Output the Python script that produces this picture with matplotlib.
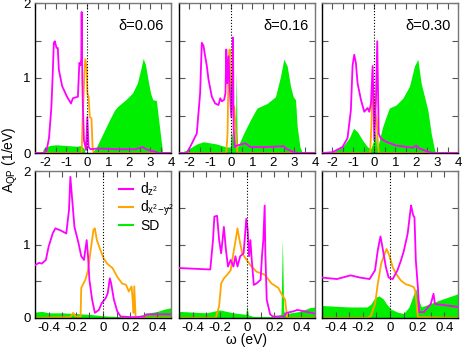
import matplotlib
matplotlib.use("Agg")
import matplotlib.pyplot as plt
from matplotlib.ticker import MultipleLocator, FuncFormatter

plt.rcParams['font.family'] = ['Liberation Sans', 'DejaVu Sans']
plt.rcParams['mathtext.fontset'] = 'custom'
plt.rcParams['mathtext.rm'] = 'Liberation Sans'
plt.rcParams['mathtext.it'] = 'Liberation Sans'
plt.rcParams['mathtext.default'] = 'regular'
plt.rcParams['axes.unicode_minus'] = False

MAG = '#ff00ff'
ORA = '#ffa500'
GRN = '#00ee00'

deltas = ['δ=0.06', 'δ=0.16', 'δ=0.30']

# ---- top row (wide energy window) ----
t1_dz2_x = [-2.5, -2.1, -1.95, -1.83, -1.72, -1.67, -1.6, -1.55, -1.47, -1.41, -1.36, -1.2, -0.97, -0.78, -0.69,
            -0.45, -0.38, -0.33, -0.29, -0.27, -0.24, -0.22, -0.16, -0.06, 0.0, 0.06, 0.15, 0.5, 1.5, 2.3, 2.66,
            2.8, 3.2, 3.4, 4.0]
t1_dz2_y = [0, 0, 0.03, 0.2, 0.6, 0.93, 1.47, 1.49, 1.4, 1.4, 1.11, 0.89, 0.75, 0.66, 0.73,
            0.75, 1.2, 1.17, 1.25, 1.88, 1.0, 0.71, 0.17, 0.04, 0.48, 0.08, 0.05, 0.06, 0.05, 0.05, 0.08,
            0.05, 0.02, 0, 0]
t1_dx_x = [-2.5, -0.27, -0.23, -0.16, -0.1, -0.03, 0.0, 0.06, 0.12, 0.2, 0.25, 0.3, 4.0]
t1_dx_y = [0, 0, 0.4, 0.9, 1.25, 1.15, 0.8, 0.75, 0.48, 0.46, 0.08, 0, 0]
t1_sd_x = [-2.5, -2.15, -2.1, -1.8, -1.5, -1.0, -0.5, -0.3, -0.15, -0.1, 0.25, 0.3, 0.44, 0.75, 1.06, 1.3,
           1.45, 1.84, 2.16, 2.39, 2.55, 2.67, 2.78, 2.9, 3.02, 3.13, 3.3, 3.45, 3.6, 4.0]
t1_sd_y = [0, 0, 0.06, 0.1, 0.11, 0.1, 0.09, 0.1, 0.06, 0.0, 0.0, 0.03, 0.08, 0.26, 0.44, 0.57,
           0.62, 0.71, 0.8, 0.93, 1.11, 1.26, 1.18, 0.98, 0.8, 0.71, 0.7, 0.35, 0, 0]

t2_dz2_x = [-2.5, -2.13, -1.97, -1.65, -1.49, -1.41, -1.33, -1.25, -1.17, -1.09, -0.93, -0.77, -0.61, -0.53,
            -0.45, -0.34, -0.28, -0.24, -0.19, -0.13, -0.08, 0.0, 0.05, 0.08, 0.11, 0.16, 0.27, 0.67, 0.91,
            1.71, 2.5, 2.67, 3.0, 3.2, 4.0]
t2_dz2_y = [0, 0, 0.08, 0.26, 0.8, 1.47, 1.43, 1.29, 1.16, 0.98, 0.75, 0.66, 0.64, 0.73,
            0.69, 0.71, 0.8, 1.38, 0.93, 1.29, 0.89, 0.48, 1.0, 1.54, 0.35, 0.08, 0.1, 0.13, 0.08,
            0.08, 0.09, 0.05, 0.01, 0, 0]
t2_dx_x = [-2.5, -0.24, -0.18, -0.13, -0.08, -0.03, 0.03, 0.14, 0.24, 0.3, 4.0]
t2_dx_y = [0, 0, 0.26, 1.16, 1.38, 0.93, 0.57, 0.62, 0.17, 0, 0]
t2_sd_x = [-2.5, -2.13, -1.65, -1.33, -0.7, -0.24, -0.05, 0.0, 0.15, 0.2, 0.24, 0.27, 0.3, 0.59, 0.91,
           1.23, 1.71, 2.11, 2.35, 2.51, 2.67, 2.83, 2.96, 3.07, 3.15, 3.28, 3.4, 4.0]
t2_sd_y = [0, 0.04, 0.12, 0.15, 0.12, 0.08, 0.08, 0.3, 0.1, 0.3, 1.09, 0.3, 0.08, 0.26, 0.44,
           0.6, 0.66, 0.75, 1.02, 1.25, 1.16, 0.89, 0.75, 0.71, 0.35, 0.08, 0, 0]

t3_dz2_x = [-2.5, -2.0, -1.52, -1.28, -1.12, -1.04, -0.96, -0.88, -0.8, -0.64, -0.48, -0.32, -0.24, -0.16,
            -0.08, 0.0, 0.08, 0.14, 0.21, 0.32, 0.56, 1.04, 1.84, 2.0, 2.16, 2.64, 2.8, 4.0]
t3_dz2_y = [0, 0.01, 0.08, 0.2, 0.57, 1.16, 1.31, 1.2, 0.93, 0.71, 0.55, 0.6, 0.55, 0.66,
            1.16, 0.17, 0.71, 1.49, 0.26, 0.19, 0.15, 0.1, 0.07, 0.1, 0.06, 0.01, 0, 0]
t3_dx_x = [-2.5, -0.2, -0.14, -0.08, -0.02, 0.05, 0.11, 0.18, 0.22, 4.0]
t3_dx_y = [0, 0, 0.35, 0.93, 0.71, 0.53, 0.44, 0.08, 0, 0]
t3_sd_x = [-2.5, -2.0, -1.52, -1.2, -0.99, -0.8, -0.56, -0.32, -0.16, -0.05, 0.05, 0.11, 0.18, 0.24, 0.4,
           0.56, 0.72, 1.04, 1.36, 1.68, 1.92, 2.08, 2.24, 2.4, 2.56, 2.72, 2.88, 2.95, 4.0]
t3_sd_y = [0, 0.01, 0.08, 0.2, 0.33, 0.28, 0.17, 0.08, 0.06, 0.15, 0.3, 0.08, 0.1, 0.17, 0.35,
           0.48, 0.6, 0.64, 0.73, 0.89, 1.16, 1.25, 0.93, 0.75, 0.57, 0.26, 0.04, 0, 0]

# ---- bottom row (zoom near the Fermi level) ----
b1_dz2_x = [-0.5, -0.47, -0.45, -0.42, -0.4, -0.37, -0.35, -0.31, -0.27, -0.25, -0.24, -0.23, -0.21, -0.18,
            -0.16, -0.14, -0.12, -0.11, -0.1, -0.08, -0.06, -0.03, -0.01, 0.02, 0.035, 0.05, 0.06, 0.08,
            0.105, 0.13, 0.23, 0.3, 0.32, 0.5]
b1_dz2_y = [0.72, 0.75, 0.74, 0.79, 0.97, 1.15, 1.22, 1.19, 1.15, 1.47, 1.92, 1.69, 1.24, 1.02,
            0.84, 0.79, 1.06, 0.84, 0.52, 0.25, 0.07, 0.11, 0.2, 0.27, 0.34, 0.54, 0.47, 0.25,
            0.09, 0.02, 0.01, 0.02, 0.05, 0.05]
b1_dx_x = [-0.5, -0.24, -0.22, -0.2, -0.165, -0.16, -0.13, -0.11, -0.09, -0.07, -0.06, -0.045, -0.02, 0.005,
           0.03, 0.07, 0.105, 0.14, 0.17, 0.19, 0.21, 0.22, 0.225, 0.23, 0.24, 0.5]
b1_dx_y = [0, 0.01, 0.07, 0.02, 0.02, 0.41, 0.52, 0.65, 0.93, 1.2, 1.22, 1.06, 0.93, 0.81,
           0.74, 0.68, 0.56, 0.47, 0.45, 0.36, 0.43, 0.2, 0.07, 0.43, 0, 0]
b1_sd_x = [-0.5, -0.45, -0.4, -0.3, -0.2, -0.1, 0.0, 0.1, 0.2, 0.28, 0.34, 0.4, 0.45, 0.5]
b1_sd_y = [0.08, 0.09, 0.07, 0.07, 0.06, 0.05, 0.03, 0.02, 0.02, 0.04, 0.07, 0.09, 0.12, 0.14]

b2_dz2_x = [-0.5, -0.27, -0.25, -0.24, -0.22, -0.205, -0.19, -0.17, -0.155, -0.14, -0.12, -0.1, -0.085, -0.07,
            -0.05, -0.025, -0.005, 0.005, 0.015, 0.025, 0.035, 0.05, 0.07, 0.1, 0.11, 0.12, 0.13, 0.135,
            0.145, 0.17, 0.19, 0.27, 0.29, 0.34, 0.37, 0.5]
b2_dz2_y = [0.68, 0.66, 1.06, 1.38, 1.39, 1.06, 0.88, 1.24, 0.93, 0.7, 0.79, 0.7, 0.84, 0.7,
            0.84, 0.88, 1.35, 1.2, 0.84, 1.06, 0.79, 0.45, 0.47, 0.52, 0.84, 1.06, 1.53, 0.88,
            0.25, 0.05, 0.02, 0.02, 0.07, 0.09, 0.11, 0.06]
b2_dx_x = [-0.5, -0.23, -0.205, -0.19, -0.17, -0.145, -0.12, -0.1, -0.08, -0.07, -0.055, -0.035, -0.01,
           0.025, 0.07, 0.13, 0.18, 0.23, 0.25, 0.28, 0.295, 0.5]
b2_dx_y = [0, 0, 0.16, 0.47, 0.54, 0.59, 0.65, 0.88, 1.1, 1.22, 1.06, 0.88, 0.81,
           0.72, 0.63, 0.59, 0.47, 0.41, 0.34, 0.25, 0, 0]
b2_sd_x = [-0.5, -0.3, -0.2, -0.1, -0.01, 0.0, 0.01, 0.05, 0.2, 0.25, 0.26, 0.27, 0.28, 0.32, 0.39, 0.46, 0.5]
b2_sd_y = [0.09, 0.07, 0.11, 0.07, 0.05, 0.16, 0.04, 0.02, 0.02, 0.05, 1.08, 0.1, 0.05, 0.07, 0.09, 0.14, 0.15]

b3_dz2_x = [-0.5, -0.39, -0.29, -0.22, -0.15, -0.11, -0.09, -0.07, -0.06, -0.03, -0.01, 0.02, 0.055, 0.08,
            0.1, 0.13, 0.15, 0.155, 0.17, 0.18, 0.19, 0.205, 0.215, 0.25, 0.28, 0.3, 0.32, 0.33, 0.38, 0.5]
b3_dz2_y = [0.55, 0.53, 0.58, 0.55, 0.53, 0.65, 0.92, 1.11, 1.01, 0.69, 0.55, 0.53, 0.65, 0.78,
            0.9, 1.15, 1.46, 1.53, 1.4, 1.37, 0.78, 0.42, 0.08, 0.08, 0.15, 0.19, 0.33, 0.19, 0.18, 0.15]
b3_dx_x = [-0.5, -0.16, -0.14, -0.11, -0.09, -0.065, -0.04, -0.025, -0.005, 0.02, 0.045, 0.08, 0.115, 0.15,
           0.175, 0.185, 0.205, 0.5]
b3_dx_y = [0, 0, 0.03, 0.19, 0.46, 0.74, 0.87, 0.94, 0.85, 0.69, 0.6, 0.51, 0.46, 0.44,
           0.42, 0.37, 0.01, 0]
b3_sd_x = [-0.5, -0.3, -0.17, -0.14, -0.11, -0.08, -0.05, -0.025, 0.007, 0.055, 0.1, 0.14, 0.175, 0.19,
           0.205, 0.23, 0.26, 0.36, 0.5]
b3_sd_y = [0.17, 0.15, 0.15, 0.19, 0.28, 0.3, 0.26, 0.19, 0.12, 0.08, 0.06, 0.15, 0.33, 0.4,
           0.28, 0.15, 0.17, 0.24, 0.33]

top = [(t1_dz2_x, t1_dz2_y, t1_dx_x, t1_dx_y, t1_sd_x, t1_sd_y),
       (t2_dz2_x, t2_dz2_y, t2_dx_x, t2_dx_y, t2_sd_x, t2_sd_y),
       (t3_dz2_x, t3_dz2_y, t3_dx_x, t3_dx_y, t3_sd_x, t3_sd_y)]
bottom = [(b1_dz2_x, b1_dz2_y, b1_dx_x, b1_dx_y, b1_sd_x, b1_sd_y),
          (b2_dz2_x, b2_dz2_y, b2_dx_x, b2_dx_y, b2_sd_x, b2_sd_y),
          (b3_dz2_x, b3_dz2_y, b3_dx_x, b3_dx_y, b3_sd_x, b3_sd_y)]

W, H = 463, 349
fig = plt.figure(figsize=(W / 100, H / 100), dpi=100)

lefts = [35, 179, 322]
pw = 136


def fmt(v, pos):
    s = '%g' % round(v, 2)
    return s


def style(ax, xlim, major, minor):
    ax.set_xlim(*xlim)
    ax.set_ylim(0, 2)
    ax.xaxis.set_major_locator(MultipleLocator(major))
    ax.xaxis.set_minor_locator(MultipleLocator(minor))
    ax.yaxis.set_major_locator(MultipleLocator(1))
    ax.yaxis.set_minor_locator(MultipleLocator(0.5))
    ax.xaxis.set_major_formatter(FuncFormatter(fmt))
    ax.tick_params(which='both', direction='in', top=True, right=True, labelsize=9.5, pad=3)
    ax.tick_params(which='major', length=4, width=0.8, color='#555555')
    ax.tick_params(which='minor', length=4, width=0.8, color='#555555')
    for s in ['left', 'bottom']:
        ax.spines[s].set_color('black')
        ax.spines[s].set_linewidth(1.0)
    for s in ['right', 'top']:
        ax.spines[s].set_color('#777777')
        ax.spines[s].set_linewidth(1.0)
    ax.axvline(0, color='black', ls=':', lw=0.8, zorder=5)


def draw(ax, d):
    zx, zy, dx, dy, sx, sy = d
    ax.fill_between(sx, 0, sy, color=GRN, lw=0, zorder=1)
    ax.plot(dx, dy, color=ORA, lw=1.3, zorder=2)
    ax.plot(zx, zy, color=MAG, lw=1.3, zorder=3)


for i in range(3):
    ax = fig.add_axes([lefts[i] / W, 1 - 153 / H, pw / W, 150 / H])
    draw(ax, top[i])
    style(ax, (-2.5, 4), 1, 0.5)
    ax.yaxis.set_major_formatter(FuncFormatter(fmt))
    if i > 0:
        ax.set_yticklabels([])
    ax.text(0.95, 0.85, deltas[i], transform=ax.transAxes, ha='right', va='center', fontsize=10.5)

    ax = fig.add_axes([lefts[i] / W, 1 - 318 / H, pw / W, 147 / H])
    draw(ax, bottom[i])
    style(ax, (-0.5, 0.5), 0.2, 0.1)
    ax.yaxis.set_major_formatter(FuncFormatter(fmt))
    if i > 0:
        ax.set_yticklabels([])
    if i == 0:
        handles = [plt.Line2D([], [], color=MAG, lw=1.5),
                   plt.Line2D([], [], color=ORA, lw=1.5),
                   plt.Line2D([], [], color=GRN, lw=1.5)]
        ax.legend(handles, [r'd$_{z^2}$', r'd$_{x^2\!-\!y^2}$', 'SD'], loc='upper left',
                  bbox_to_anchor=(0.58, 0.97), frameon=False, fontsize=10, handlelength=1.0,
                  handletextpad=0.5, labelspacing=0.05, borderaxespad=0)

fig.text(10 / W, 1 - 160 / H, r'A$_{QP}$ (1/eV)', rotation=90, ha='center', va='center', fontsize=10)
fig.text(246 / W, 1 - 340 / H, 'ω (eV)', ha='center', va='center', fontsize=10)

fig.savefig('out.png', dpi=100)
